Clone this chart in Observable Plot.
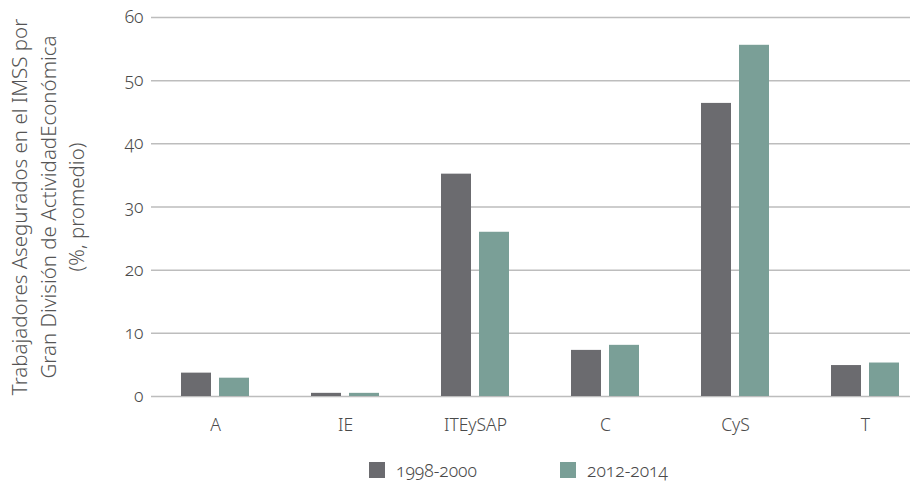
<!DOCTYPE html>
<html>
<head>
<meta charset="utf-8">
<script src="https://cdn.jsdelivr.net/npm/d3@7"></script>
<script src="https://cdn.jsdelivr.net/npm/@observablehq/plot@0.6"></script>
<style>
  html, body { margin: 0; padding: 0; background: #fff; }
  body { width: 918px; height: 481px; overflow: hidden; font-family: "Noto Sans", "Open Sans", sans-serif; }
  #chart svg { display: block; font-variant-numeric: oldstyle-nums; font-feature-settings: "onum" 1; }
  .legend { display: flex; align-items: center; margin-left: 369px; margin-top: 2px; height: 22px; color: #4a4a4a; font-size: 17.5px; font-weight: 300; font-feature-settings: "onum" 1; font-variant-numeric: oldstyle-nums; }
  .legend .item { display: flex; align-items: center; }
  .legend .sw { width: 16px; height: 16px; margin-right: 11px; }
</style>
</head>
<body>
<div id="chart"></div>
<script>
const categories = ["A", "IE", "ITEySAP", "C", "CyS", "T"];
const seriesNames = ["1998-2000", "2012-2014"];
const values1998 = [3.7, 0.5, 35.2, 7.3, 46.4, 4.9];
const values2012 = [2.9, 0.5, 26.0, 8.1, 55.6, 5.3];
const seriesColors = ["#6b6b6f", "#7a9f97"];
const yTicks = [0, 10, 20, 30, 40, 50, 60];
const yLabel = "Trabajadores Asegurados en el IMSS por\nGran División de ActividadEconómica\n(%, promedio)";

const rows1 = categories.map((c, i) => ({cat: c, v: values1998[i]}));
const rows2 = categories.map((c, i) => ({cat: c, v: values2012[i]}));

const step = 130, barW = 30, gap = 8;
const half = step / 2;

const chart = Plot.plot({
  width: 918,
  height: 457,
  marginTop: 17,
  marginBottom: 61,
  marginLeft: 151,
  marginRight: 8,
  style: {fontFamily: "'Noto Sans', 'Open Sans', sans-serif", fontSize: "17.5px", color: "#4a4a4a", fontWeight: 300},
  x: {type: "band", domain: categories, range: [150, 930], padding: 0, label: null, tickSize: 0, tickPadding: 22},
  y: {domain: [0, 60], ticks: yTicks, label: null, tickSize: 0, tickPadding: 8},
  marks: [
    Plot.ruleY(yTicks, {y: d => d, stroke: "#bdbdbd", strokeWidth: 1.5}),
    Plot.barY(rows1, {x: "cat", y: "v", fill: seriesColors[0], insetLeft: half - gap / 2 - barW, insetRight: half + gap / 2}),
    Plot.barY(rows2, {x: "cat", y: "v", fill: seriesColors[1], insetLeft: half + gap / 2, insetRight: half - gap / 2 - barW}),
    Plot.text([yLabel], {text: d => d, frameAnchor: "left", rotate: -90, dx: -105, fontSize: 20.5, lineHeight: 1.39, fill: "#555", textAnchor: "middle", lineAnchor: "middle"})
  ]
});
document.getElementById("chart").appendChild(chart);

const legend = document.createElement("div");
legend.className = "legend";
seriesNames.forEach((n, i) => {
  const it = document.createElement("div");
  it.className = "item";
  it.style.marginRight = i === 0 ? "83px" : "0";
  const sw = document.createElement("div");
  sw.className = "sw";
  sw.style.background = seriesColors[i];
  const t = document.createElement("span");
  t.textContent = n;
  it.appendChild(sw); it.appendChild(t);
  legend.appendChild(it);
});
document.getElementById("chart").appendChild(legend);
</script>
</body>
</html>
